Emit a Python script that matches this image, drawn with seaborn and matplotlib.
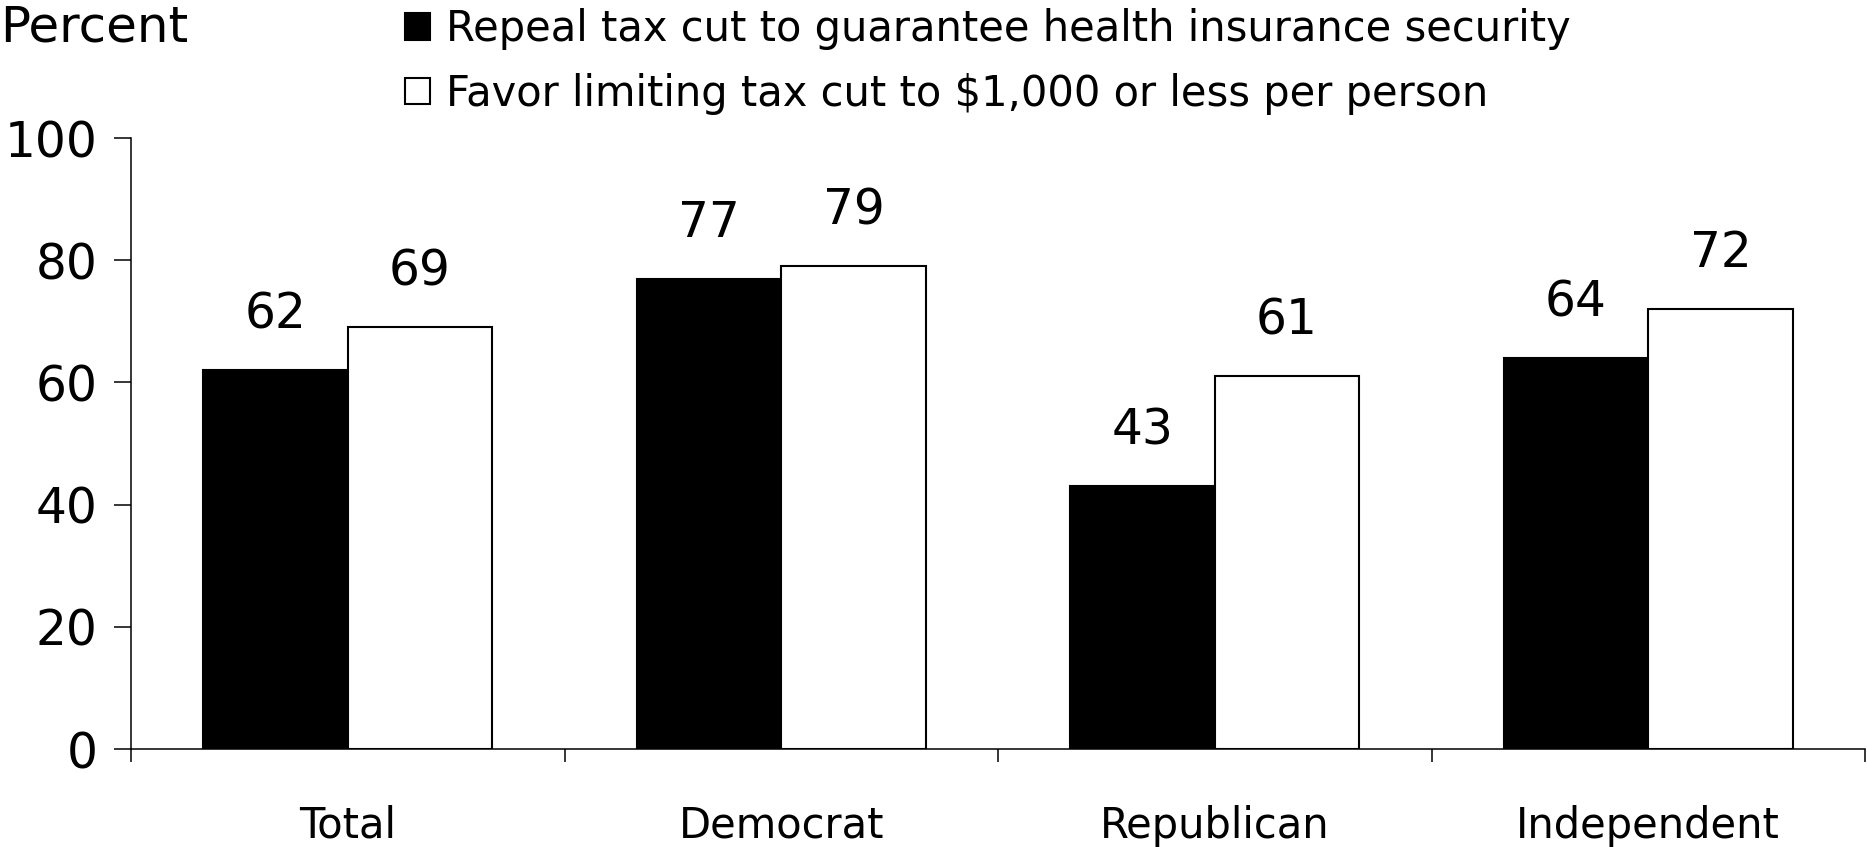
import pandas as pd
import matplotlib
matplotlib.use("Agg")
import matplotlib.pyplot as plt
import seaborn as sns

# data
groups = ["Total", "Democrat", "Republican", "Independent"]
series = ["Repeal tax cut to guarantee health insurance security",
          "Favor limiting tax cut to $1,000 or less per person"]
repeal = [62, 77, 43, 64]
limit = [69, 79, 61, 72]
yticks = [0, 20, 40, 60, 80, 100]

df = pd.DataFrame({
    "group": groups * 2,
    "series": [series[0]] * 4 + [series[1]] * 4,
    "value": repeal + limit,
})

sns.set_style("white")
plt.rcParams["font.family"] = ["DejaVu Sans"]
plt.rcParams.update({"text.color": "black", "axes.labelcolor": "black",
                     "xtick.color": "black", "ytick.color": "black"})

fig = plt.figure(figsize=(18.67, 8.47), dpi=100)
ax = fig.add_axes([131 / 1867, 98 / 847, (1865 - 131) / 1867, (749 - 138) / 847])

sns.barplot(data=df, x="group", y="value", hue="series", order=groups,
            hue_order=series, palette=["black", "white"], edgecolor="black",
            linewidth=1.5, width=0.667, saturation=1, ax=ax)

for c in ax.containers:
    ax.bar_label(c, fmt="%d", padding=23, fontsize=35, color="black")

handles, labels = ax.get_legend_handles_labels()
ax.get_legend().remove()
fig.legend(handles, labels, loc="upper left", bbox_to_anchor=(405 / 1867, 1 - 8 / 847),
           frameon=False, fontsize=30, borderpad=0, borderaxespad=0,
           handlelength=0.6, handleheight=0.6, handletextpad=0.38, labelspacing=0.55)

fig.text(0.0, 1 - 42 / 847, "Percent", fontsize=36, ha="left", va="baseline")

ax.set_ylim(0, 100)
ax.set_yticks(yticks)
ax.set_xlim(-0.5, 3.5)
ax.set_xticks([-0.5, 0.5, 1.5, 2.5, 3.5], minor=True)
ax.set_xlabel("")
ax.set_ylabel("")
ax.tick_params(axis="y", labelsize=35, length=12, width=1.1, pad=12, direction="out", left=True)
ax.tick_params(axis="x", which="major", labelsize=30, length=0, pad=40)
ax.tick_params(axis="x", which="minor", length=9, width=1.1, direction="out", bottom=True)

sns.despine(ax=ax, top=True, right=True)
for s in ["left", "bottom"]:
    ax.spines[s].set_linewidth(1.1)
    ax.spines[s].set_color("black")

fig.savefig("out.png", dpi=100)
